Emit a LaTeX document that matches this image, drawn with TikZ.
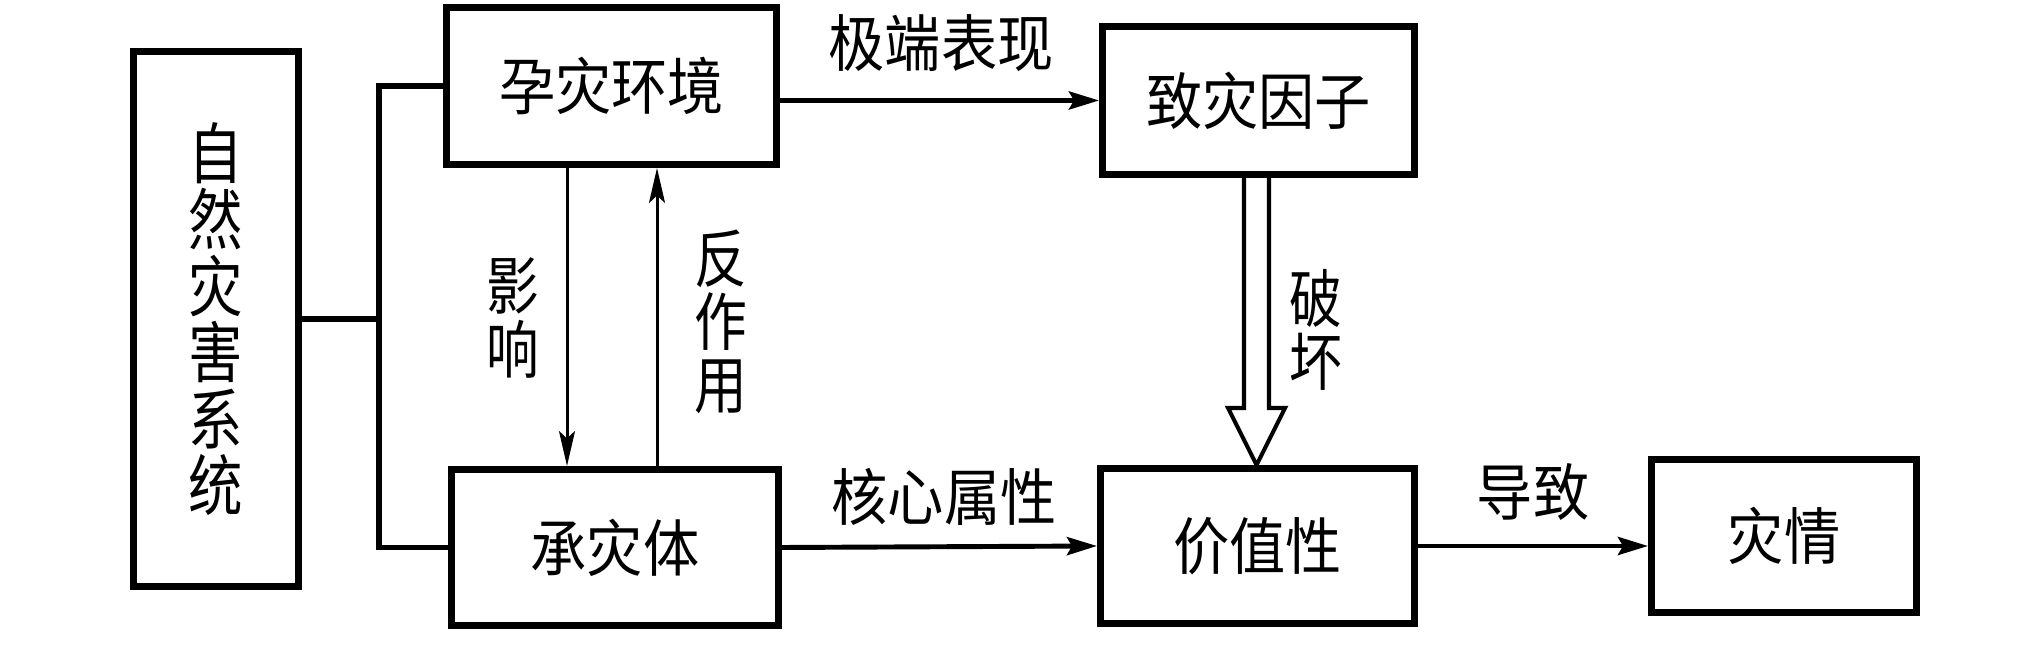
\documentclass[tikz,border=0pt]{standalone}
\usepackage{fontspec}
\setmainfont{Noto Sans CJK SC}
\usetikzlibrary{arrows.meta,calc}
\newcommand\tallbox[2]{\scalebox{1}[#1]{#2}}
\newcommand\vstack[2]{\scalebox{1}[#1]{\parbox{1em}{\centering #2}}}
\tikzset{
	block/.style={draw, line width=4pt, inner sep=0pt, font=\fontsize{32}{36}\selectfont},
	wire/.style={line width=3pt},
	flow/.style={line width=2.8pt, -{Stealth[length=6mm,width=3.6mm,inset=1mm]}},
	thinflow/.style={line width=1.7pt, -{Stealth[length=7mm,width=3.2mm,inset=1.5mm]}},
	tag/.style={inner sep=0pt, font=\fontsize{32}{36}\selectfont},
	vtag/.style={inner sep=0pt, font=\fontsize{30}{30}\selectfont},
}

\begin{document}
\begin{tikzpicture}[x=0.02cm, y=0.02cm]
		%%%%% START %%%%%
		\useasboundingbox (0, 0) rectangle (2041, 665);
		
		\node[block, minimum width=3.3cm, minimum height=10.7cm, font=\fontsize{31}{31}\selectfont] (sys) at (216, 346) {\vstack{1.22}{自\\然\\灾\\害\\系\\统}};
		
		\node[block, minimum width=6.6cm, minimum height=3.14cm] (env) at (611.5, 579) {\tallbox{1.1}{孕灾环境}};
		\node[block, minimum width=6.54cm, minimum height=3.12cm] (body) at (615, 117.5) {\tallbox{1.1}{承灾体}};
		
		\node[block, minimum width=6.24cm, minimum height=2.96cm] (hazard) at (1258.5, 564.5) {\tallbox{1.1}{致灾因子}};
		\node[block, minimum width=6.28cm, minimum height=3.1cm] (value) at (1257.5, 119) {\tallbox{1.1}{价值性}};
		\node[block, minimum width=5.3cm, minimum height=3.06cm] (loss) at (1784, 129) {\tallbox{1.1}{灾情}};
		
		\coordinate (bus) at (379, 346);
		\draw[wire] (env.west) -| (bus) |- (body.west);
		\draw[wire] (sys.east) -- (bus);
		
		\coordinate (inf) at (567, 0);
		\coordinate (fb) at (657, 0);
		\draw[thinflow] (env.south -| inf) -- (body.north -| inf);
		\draw[thinflow] (body.north -| fb) -- (env.south -| fb);
		\node[vtag] (influence) at (513, 347) {\vstack{1.2}{影\\响}};
		\node[vtag] (feedback) at (721, 343) {\vstack{1.2}{反\\作\\用}};
		
		\draw[flow] (env.east |- hazard.west) -- (hazard.west);
		\node[tag] (extreme) at (941, 622) {\tallbox{1.1}{极端表现}};
		
		\draw[flow] (body.east) -- (value.west);
		\node[tag] (core) at (944, 168) {\tallbox{1.1}{核心属性}};
		
		\draw[flow] (value.east) -- (loss.west |- value.east);
		\node[tag] (cause) at (1533, 173) {\tallbox{1.1}{导致}};
		
		\coordinate (dtop) at ($(hazard.south)+(-2, 0)$);
		\coordinate (dtip) at (value.north -| dtop);
		\draw[line width=2.3pt, line join=miter] ($(dtop)+(-12.5, 0)$) -- ($(dtip)+(-12.5, 57)$) -- ($(dtip)+(-28.5, 57)$) -- (dtip)
			-- ($(dtip)+(28.5, 57)$) -- ($(dtip)+(12.5, 57)$) -- ($(dtop)+(12.5, 0)$);
		\node[vtag] (damage) at (1316, 335) {\vstack{1.2}{破\\坏}};
		
		%%%%% END %%%%%
\end{tikzpicture}
\end{document}
